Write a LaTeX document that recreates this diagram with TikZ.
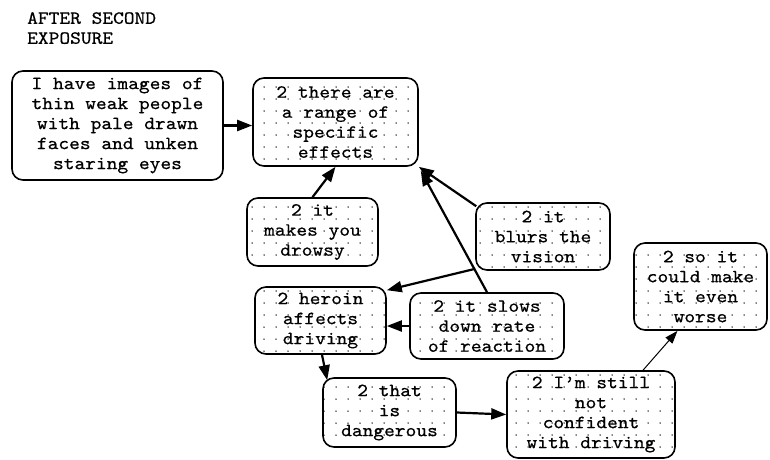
\documentclass[tikz,border=0pt]{standalone}
\usepackage{fontspec}
\setmainfont{lmmono10-regular.otf}[FakeStretch=1.1,FakeBold=0.6]
\usetikzlibrary{arrows.meta,patterns.meta}
\begin{document}
\begin{tikzpicture}[x=1pt,y=-1pt,
  every node/.style={font=\fontsize{18.6}{20}\selectfont},
  plainbox/.style={draw,line width=1.6pt,rounded corners=11pt,inner sep=0pt,align=center},
  dotbox/.style={plainbox,pattern={Dots[distance=12pt,radius=0.75pt]}},
  link/.style={line width=2.2pt,-{Triangle[length=15pt,width=11pt]}},
  thinlink/.style={line width=1pt,-{Triangle[length=13pt,width=9pt]}}]
\useasboundingbox (0,0) rectangle (770,459);

% heading
\node[anchor=north west,align=left,inner sep=0pt] (title) at (27,12) {AFTER SECOND\\EXPOSURE};

% statements
\node[plainbox,minimum width=211pt,minimum height=109pt] (A) at (117.5,125.5)
  {I have images of\\thin weak people\\with pale drawn\\faces and unken\\staring eyes};
\node[dotbox,minimum width=165pt,minimum height=88pt] (B) at (335.5,122)
  {2 there are\\a range of\\specific\\effects};
\node[dotbox,minimum width=131pt,minimum height=68pt] (C) at (312.5,232)
  {2 it\\makes you\\drowsy};
\node[dotbox,minimum width=134pt,minimum height=67pt] (D) at (543,236.5)
  {2 it\\blurs the\\vision};
\node[dotbox,minimum width=131pt,minimum height=67pt] (E) at (320.5,320.5)
  {2 heroin\\affects\\driving};
\node[dotbox,minimum width=154pt,minimum height=66pt] (F) at (487,326)
  {2 it slows\\down rate\\of reaction};
\node[dotbox,minimum width=133pt,minimum height=69pt] (G) at (389.5,412.5)
  {2 that\\is\\dangerous};
\node[dotbox,minimum width=168pt,minimum height=87pt] (H) at (591,414.5)
  {2 I'm still\\not\\confident\\with driving};
\node[dotbox,minimum width=133pt,minimum height=87pt] (I) at (700.5,286.5)
  {2 so it\\could make\\it even\\worse};

% connectors
\draw[link] (A.east) -- (A.east -| B.west);
\draw[link] (C.north) -- (B.south);
\draw[link] ([xshift=1pt,yshift=-4pt]D.north west) -- (B.south east);
\draw[link] (F.north) -- ([xshift=2pt,yshift=-4pt]B.south east);
\draw[link] ([yshift=2pt]D.south west) -- ([yshift=-4pt]E.north east);
\draw[link] (F.west) -- (F.west -| E.east);
\draw[link] ([xshift=1.5pt]E.south) -- ([xshift=5pt,yshift=-3pt]G.north west);
\draw[link] (G.east) -- (H.west);
\draw[thinlink] ([xshift=52pt]H.north) -- ([xshift=-23pt]I.south);
\end{tikzpicture}
\end{document}
